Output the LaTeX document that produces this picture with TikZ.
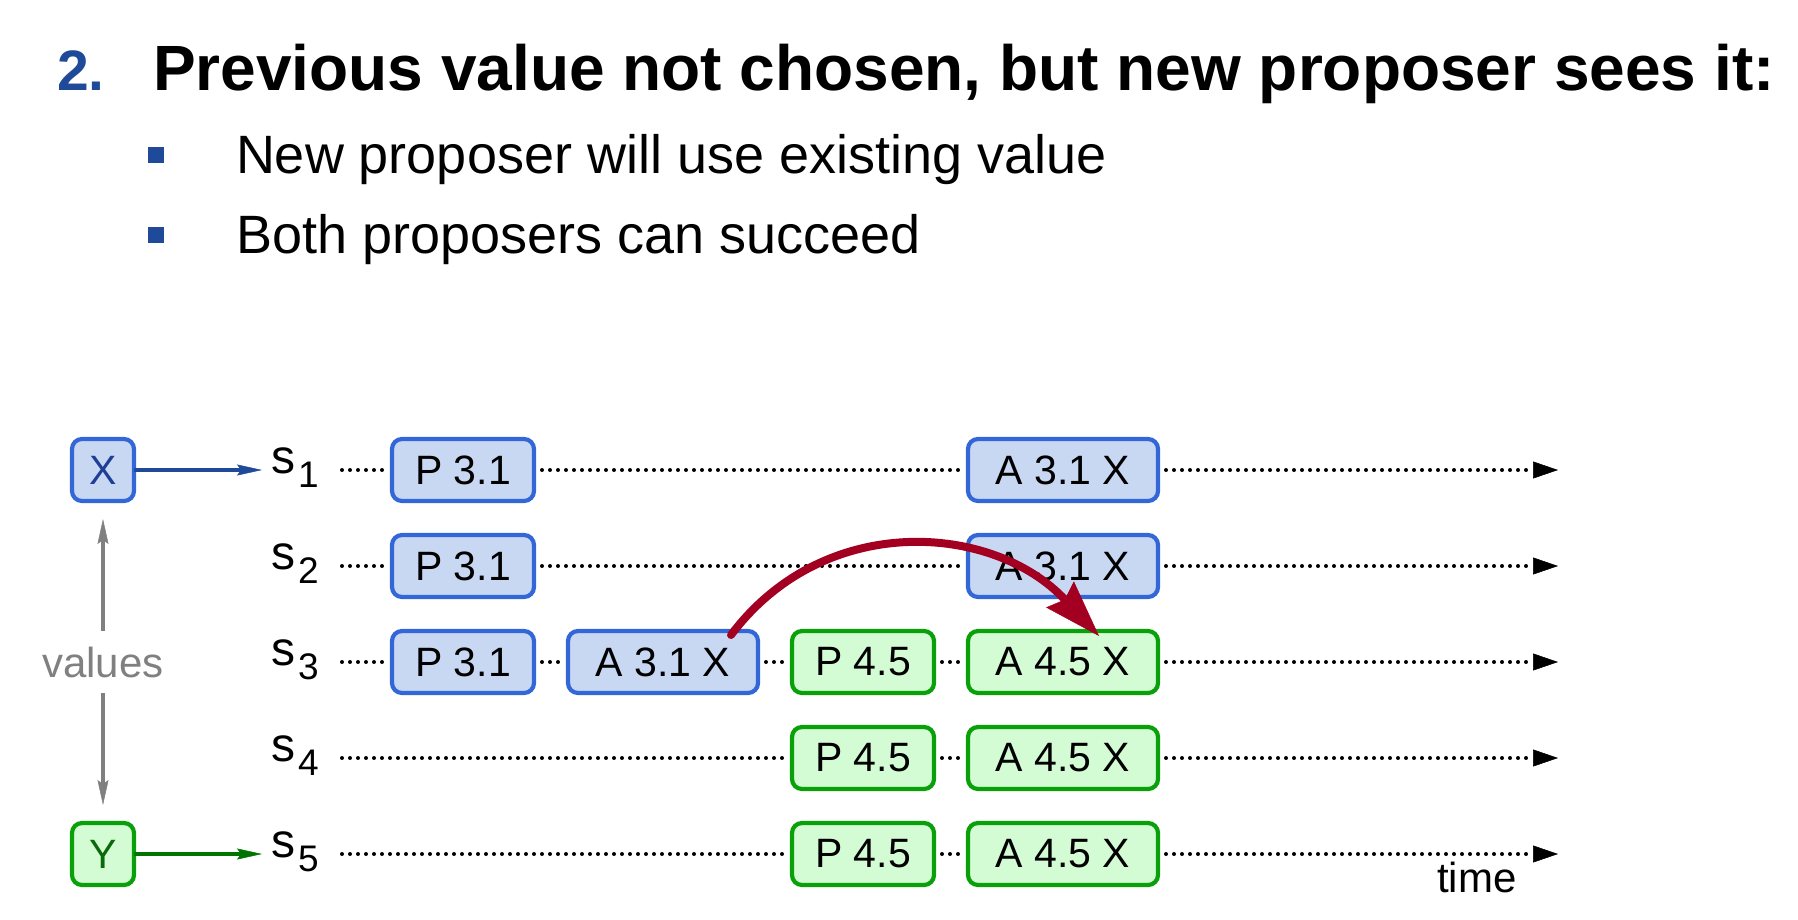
\documentclass[tikz,border=0pt]{standalone}
\usepackage{fontspec}
\setmainfont{Liberation Sans}
\usetikzlibrary{arrows.meta,calc}
\definecolor{boxblue}{RGB}{201,216,242}
\definecolor{edgeblue}{RGB}{51,102,214}
\definecolor{boxgreen}{RGB}{212,252,212}
\definecolor{edgegreen}{RGB}{10,160,10}
\definecolor{navy}{RGB}{31,73,153}
\definecolor{xnavy}{RGB}{31,63,150}
\definecolor{dkgreen}{RGB}{0,115,0}
\definecolor{ygreen}{RGB}{10,105,10}
\definecolor{arcred}{RGB}{163,0,33}
\definecolor{midgray}{RGB}{128,128,128}
\newcommand\slab[1]{{\fontsize{48}{48}\selectfont s}\kern3pt\raisebox{-14pt}{\fontsize{37}{37}\selectfont #1}}
\begin{document}
\begin{tikzpicture}[x=1pt,y=-1pt,
  every node/.style={inner sep=0pt,outer sep=0pt},
  bx/.style={rounded corners=10pt,line width=4.2pt,minimum height=62pt,font=\fontsize{41}{41}\selectfont},
  bluebox/.style={bx,draw=edgeblue,fill=boxblue},
  greenbox/.style={bx,draw=edgegreen,fill=boxgreen},
  pw/.style={minimum width=142pt},
  aw/.style={minimum width=190pt},
  vw/.style={minimum width=62pt},
  dotline/.style={line width=4pt,dash pattern=on 0pt off 8pt,line cap=round},
  gapped/.style={shorten <=8pt,shorten >=8pt},
  endarrow/.style={dotline,shorten <=8pt,-{Triangle[length=25pt,width=17pt,line width=0.5pt]}},
  valarrow/.style={line width=3.6pt,-{Stealth[length=25pt,width=11pt,inset=4pt,line width=0.5pt]},shorten >=9pt},
  grayarrow/.style={midgray,line width=3.4pt,-{Stealth[length=25pt,width=11pt,inset=4pt,line width=0.5pt]},shorten <=16pt,shorten >=18pt},
  lab/.style={anchor=base west}
]
\useasboundingbox (0,0) rectangle (1798,920);

% heading
\node[lab,font=\fontsize{57}{57}\selectfont\bfseries,text=navy] (num) at (57,91) {2.};
\node[lab,font=\fontsize{64}{64}\selectfont\bfseries] (title) at (153,91) {Previous value not chosen, but new proposer sees it:};
\node[fill=navy,minimum size=16pt] (bul1) at (156,155) {};
\node[fill=navy,minimum size=16pt] (bul2) at (156,235) {};
\node[lab,font=\fontsize{54}{54}\selectfont] (txt1) at (236,174) {New proposer will use existing value};
\node[lab,font=\fontsize{54}{54}\selectfont] (txt2) at (236,253) {Both proposers can succeed};

% server labels and line coordinates
\foreach \i/\y in {1/470,2/566,3/662,4/758,5/854}{
  \node[lab] (s\i) at (271,\y+3) {\slab{\i}};
  \coordinate (st\i) at (342,\y);
  \coordinate (en\i) at (1558,\y);
}

% boxes
\path
  (103,470) node[bluebox,vw,text=xnavy] (valX) {X}
  (103,854) node[greenbox,vw,text=ygreen] (valY) {Y}
  (463,470) node[bluebox,pw] (p1) {P 3.1}
  (463,566) node[bluebox,pw] (p2) {P 3.1}
  (463,662) node[bluebox,pw] (p3) {P 3.1}
  (663,662) node[bluebox,aw] (a3) {A 3.1 X}
  (863,662) node[greenbox,pw] (q3) {P 4.5}
  (863,758) node[greenbox,pw] (q4) {P 4.5}
  (863,854) node[greenbox,pw] (q5) {P 4.5}
  (1063,470) node[bluebox,aw] (a1) {A 3.1 X}
  (1063,566) node[bluebox,aw] (a2) {A 3.1 X}
  (1063,662) node[greenbox,aw] (b3) {A 4.5 X}
  (1063,758) node[greenbox,aw] (b4) {A 4.5 X}
  (1063,854) node[greenbox,aw] (b5) {A 4.5 X};

% dotted time lines
\draw[dotline,shorten >=8pt] (st1) -- (p1);
\draw[dotline,gapped] (p1) -- (a1);
\draw[endarrow] (a1) -- (en1);
\draw[dotline,shorten >=8pt] (st2) -- (p2);
\draw[dotline,gapped] (p2) -- (a2);
\draw[endarrow] (a2) -- (en2);
\draw[dotline,shorten >=8pt] (st3) -- (p3);
\draw[dotline,gapped] (p3) -- (a3);
\draw[dotline,gapped] (a3) -- (q3);
\draw[dotline,gapped] (q3) -- (b3);
\draw[endarrow] (b3) -- (en3);
\draw[dotline,shorten >=8pt] (st4) -- (q4);
\draw[dotline,gapped] (q4) -- (b4);
\draw[endarrow] (b4) -- (en4);
\draw[dotline,shorten >=8pt] (st5) -- (q5);
\draw[dotline,gapped] (q5) -- (b5);
\draw[endarrow] (b5) -- (en5);

% value arrows
\draw[valarrow,navy] (valX.east) -- (valX.east -| s1.west);
\draw[valarrow,dkgreen] (valY.east) -- (valY.east -| s5.west);

% values label
\node[anchor=base,font=\fontsize{42}{42}\selectfont,text=midgray] (values) at (103,677) {values};
\draw[grayarrow] (values.north) -- (valX.south);
\draw[grayarrow] (values.south) -- (valY.north);

% time label
\node[lab,font=\fontsize{42}{42}\selectfont] (time) at (1437,892) {time};

% red arc
\coordinate (rs) at (731,635);
\coordinate (re) at (1099,636);
\draw[arcred,line width=8pt,line cap=round,-{Stealth[length=57pt,width=38pt,inset=7pt,line width=0.5pt]}]
  (rs) .. controls (824,511) and (993,523) .. (re);
\end{tikzpicture}
\end{document}
